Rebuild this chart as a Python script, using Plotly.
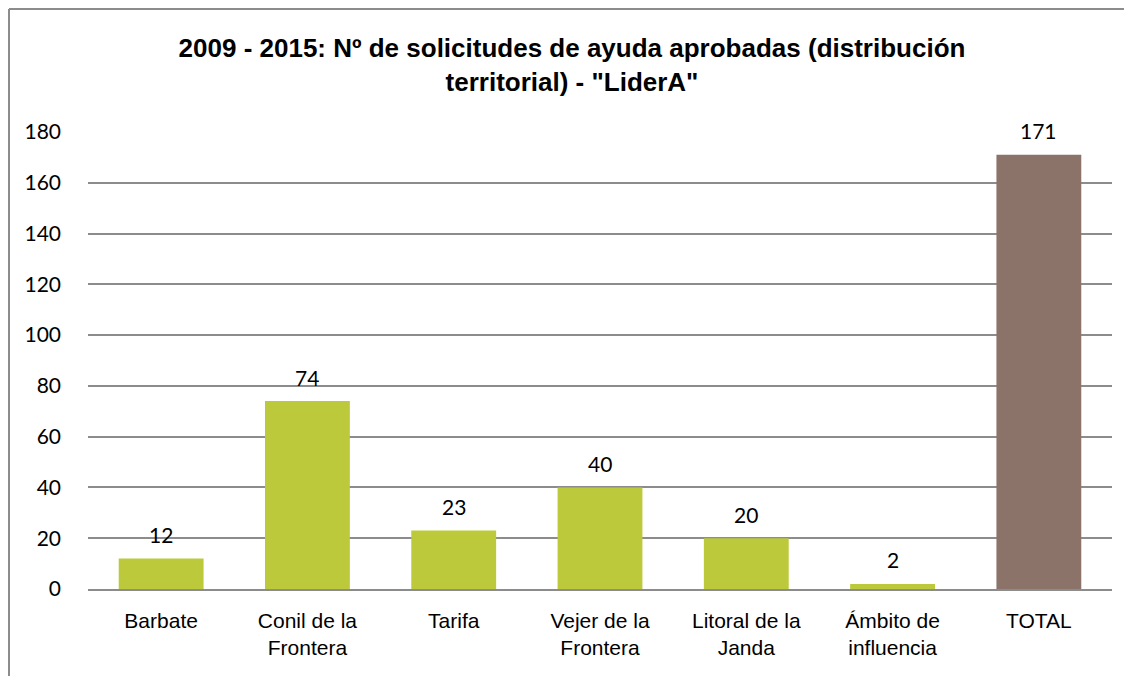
import plotly.graph_objects as go

categories = ["Barbate", "Conil de la<br>Frontera", "Tarifa", "Vejer de la<br>Frontera",
              "Litoral de la<br>Janda", "Ámbito de<br>influencia", "TOTAL"]
values = [12, 74, 23, 40, 20, 2, 171]
bar_colors = ["#BCC93B"] * 6 + ["#8C736A"]
y_ticks = [0, 20, 40, 60, 80, 100, 120, 140, 160, 180]

narrow = "Liberation Sans Narrow, Arial Narrow, Liberation Sans, Arial, sans-serif"
calib = "Lato, Carlito, Calibri, sans-serif"

W, H = 1124, 668
L, R, T, B = 80, 20, 124, 87
plot_w, plot_h = W - L - R, H - T - B

fig = go.Figure()
fig.add_trace(go.Bar(x=categories, y=values, marker=dict(color=bar_colors, line=dict(width=0)),
                     hoverinfo="skip"))

for c, v in zip(categories, values):
    fig.add_annotation(x=c, y=v, text=str(v), showarrow=False, yshift=24,
                       font=dict(family=calib, size=21, color="#000000"))

fig.update_layout(
    width=W, height=H,
    margin=dict(l=L, r=R, t=T, b=B),
    paper_bgcolor="white", plot_bgcolor="white",
    bargap=0.42,
    showlegend=False,
    title=dict(text='<b>2009 - 2015: Nº de solicitudes de ayuda aprobadas (distribución<br>territorial) - "LiderA"</b>',
               x=(572 - 8) / W, xanchor="center",
               y=1 - 49 / H, yanchor="middle",
               font=dict(family=narrow, size=26, color="#000000")),
)
fig.update_yaxes(range=[0, 180], tickvals=y_ticks, showgrid=True, gridcolor="#8C8C8C", gridwidth=1.5,
                 zeroline=False, showline=False, ticks="", ticklabelstandoff=26,
                 tickfont=dict(family=calib, size=21, color="#000000"))
fig.update_xaxes(showline=True, linecolor="#8C8C8C", linewidth=1.5, ticks="", ticklabelstandoff=12,
                 tickfont=dict(family=narrow, size=21, color="#000000"))

top_y = (H - B - 1) / plot_h
left_x = (1 - L) / plot_w
fig.add_shape(type="line", xref="paper", yref="paper", x0=left_x, x1=1.05, y0=top_y, y1=top_y,
              line=dict(color="#8C8C8C", width=2))
fig.add_shape(type="line", xref="paper", yref="paper", x0=left_x, x1=left_x, y0=top_y, y1=-0.3,
              line=dict(color="#8C8C8C", width=2))

fig.write_html("out.html")
